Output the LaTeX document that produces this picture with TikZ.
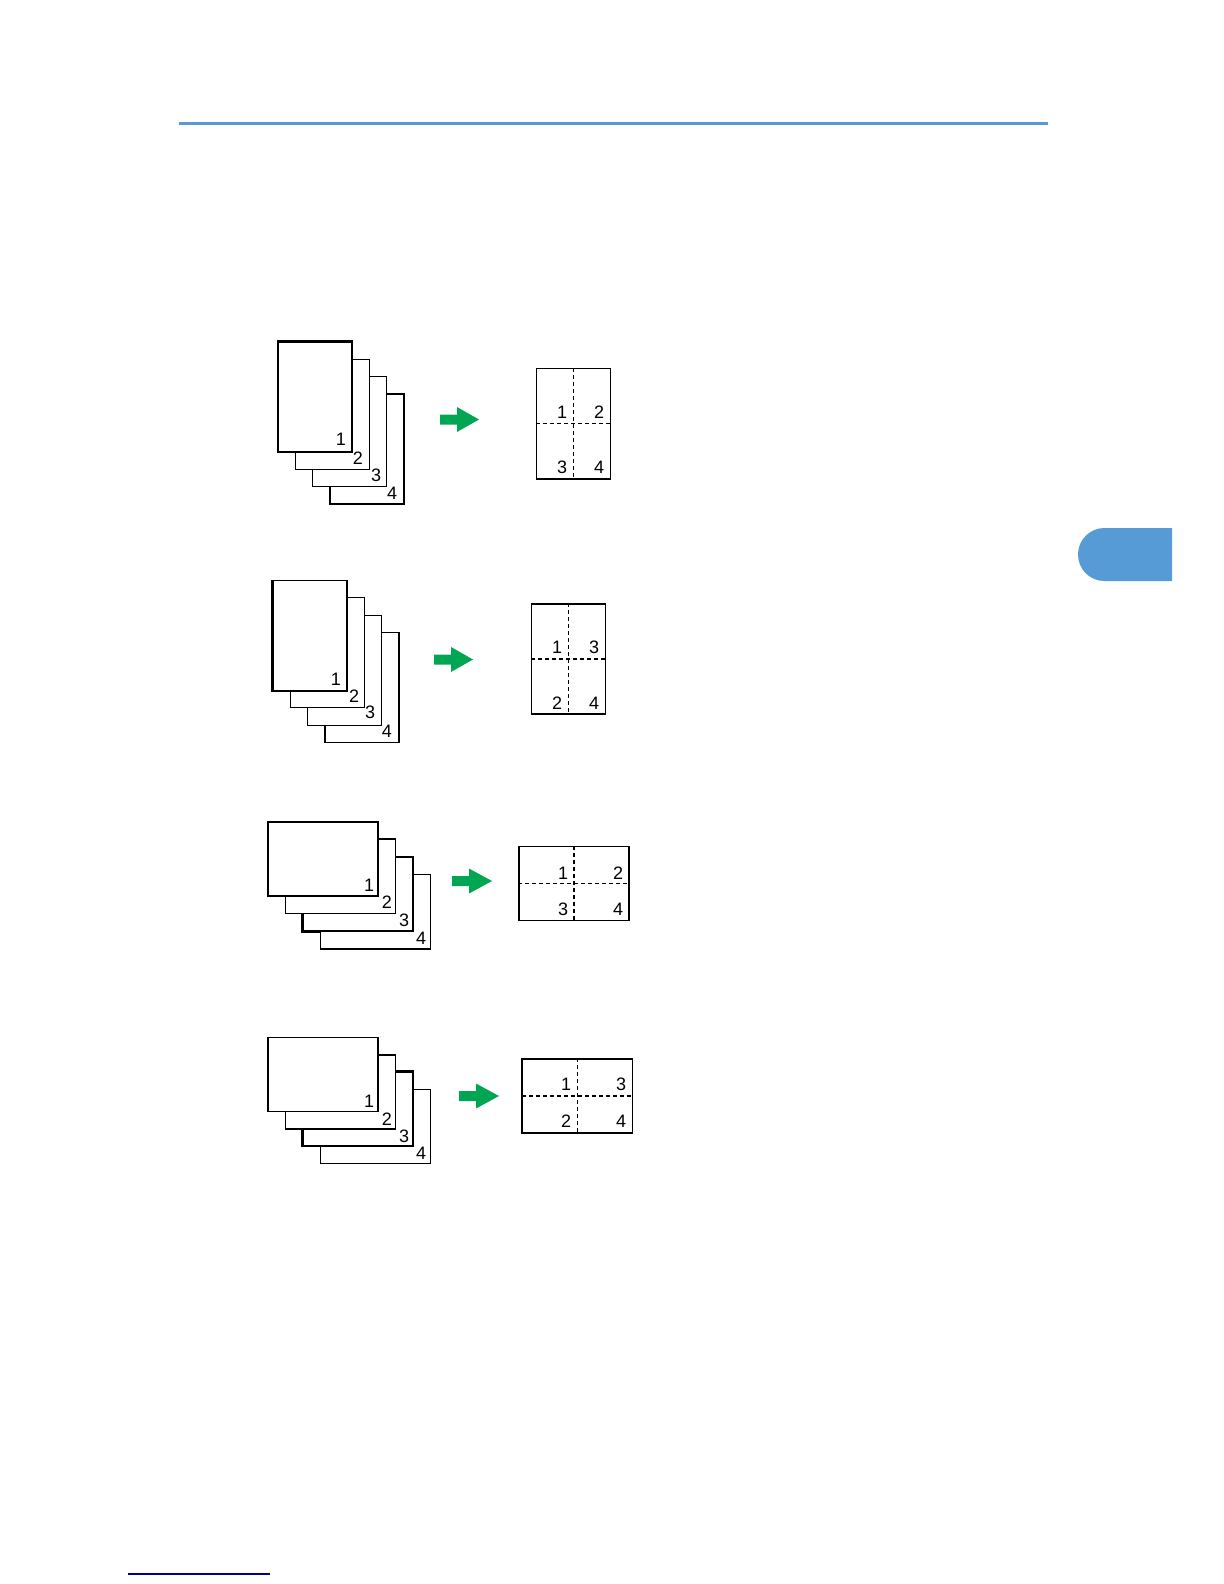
\documentclass[tikz,border=0pt]{standalone}
\usepackage{fontspec}
\setmainfont{Liberation Sans}
\usepackage{tikz}
\definecolor{rulerblue}{RGB}{86,154,214}
\definecolor{linkblue}{RGB}{0,0,150}
\definecolor{gogreen}{RGB}{0,166,81}
\tikzstyle{page}=[draw, fill=white, line width=0.6pt, inner sep=0pt]
\tikzstyle{portrait}=[page, minimum width=37pt, minimum height=55pt]
\tikzstyle{landscape}=[page, minimum width=55pt, minimum height=37pt]
\tikzstyle{num}=[inner sep=0pt, font=\fontsize{9}{10}\selectfont]
\tikzstyle{fold}=[line width=0.6pt, dash pattern=on 2pt off 1.5pt]
\tikzstyle{heavy}=[line width=1.1pt]
\tikzstyle{goarrow}=[fill=gogreen]

\begin{document}
\begin{tikzpicture}[x=0.5pt,y=-0.5pt]
\useasboundingbox (0,0) rectangle (1224,1584);

% page decorations
\draw[rulerblue, line width=1.5pt] (179,124) -- (1048,124);
\fill[rulerblue] (1172,528) [rounded corners=13.2pt] -- (1078,528) -- (1078,581) [sharp corners] -- (1172,581) -- cycle;
\draw[linkblue, line width=0.8pt] (128,1574) -- (270,1574);

% 1: portrait, left to right
\node[portrait] (a4) at (366.9,448.9) {};
\node[num] (na4) at (392,493) {4};
\node[portrait] (a3) at (349.6,431.6) {};
\node[num] (na3) at (376,475) {3};
\node[portrait] (a2) at (332.3,414.3) {};
\node[num] (na2) at (358,458) {2};
\node[portrait] (a1) at (315,397) {};
\node[num] (na1) at (341,439) {1};
\draw[heavy] (a1.north west) -- (a1.north east);

\fill[goarrow] (440,414.5) -- ++(17,0) -- ++(0,-7.5) -- ++(22,12.5) -- ++(-22,12.5) -- ++(0,-7.5) -- ++(-17,0) -- cycle;

\node[portrait] (ra) at (573.5,423.5) {};
\draw[fold] (ra.north) -- (ra.south);
\draw[fold] (ra.west) -- (ra.east);
\draw[heavy] (ra.south west) -- (ra.south east);
\node[num] (ra1) at (562,412) {1};
\node[num] (ra2) at (599,412) {2};
\node[num] (ra3) at (562,467) {3};
\node[num] (ra4) at (599,467) {4};

% 2: portrait, top to bottom
\node[portrait] (b4) at (361.9,687.4) {};
\node[num] (nb4) at (387,731) {4};
\node[portrait] (b3) at (344.6,670.1) {};
\node[num] (nb3) at (370,712) {3};
\node[portrait] (b2) at (327.3,652.8) {};
\node[num] (nb2) at (354,696) {2};
\node[portrait] (b1) at (310,635.5) {};
\node[num] (nb1) at (336,679) {1};
\draw[heavy] (b1.north west) -- (b1.south west) -- (b1.south east);

\fill[goarrow] (434,654.5) -- ++(17,0) -- ++(0,-7.5) -- ++(22,12.5) -- ++(-22,12.5) -- ++(0,-7.5) -- ++(-17,0) -- cycle;

\node[portrait] (rb) at (568.5,659) {};
\draw[fold] (rb.north) -- (rb.south);
\draw[fold] (rb.west) -- (rb.east);
\node[num] (rb1) at (557,647) {1};
\node[num] (rb3) at (594,647) {3};
\node[num] (rb2) at (557,703) {2};
\node[num] (rb4) at (594,703) {4};

% 3: landscape, left to right
\node[landscape] (c4) at (375.5,911.5) {};
\node[num] (nc4) at (421,938) {4};
\node[landscape] (c3) at (358,894) {};
\node[num] (nc3) at (404,920) {3};
\node[landscape] (c2) at (340.5,876.5) {};
\node[num] (nc2) at (387,902) {2};
\node[landscape] (c1) at (323,859) {};
\node[num] (nc1) at (369,885) {1};
\draw[heavy] (c1.east |- c2.north) -- (c2.north east);
\draw[heavy] (c3.west |- c2.south) -- (c3.south west) -- (c3.south west -| c4.west);
\draw[heavy] (c4.south west) -- (c4.south east);

\fill[goarrow] (452,876) -- ++(17,0) -- ++(0,-7.5) -- ++(23,12.5) -- ++(-23,12.5) -- ++(0,-7.5) -- ++(-17,0) -- cycle;

\node[landscape] (rc) at (574,883.5) {};
\draw[fold] (rc.north) -- (rc.south);
\draw[fold] (rc.west) -- (rc.east);
\node[num] (rc1) at (563,873) {1};
\node[num] (rc2) at (618,873) {2};
\node[num] (rc3) at (563,909) {3};
\node[num] (rc4) at (618,909) {4};

% 4: landscape, top to bottom
\node[landscape] (d4) at (375.5,1126.5) {};
\node[num] (nd4) at (421,1153) {4};
\node[landscape] (d3) at (358,1109) {};
\node[num] (nd3) at (404,1136) {3};
\node[landscape] (d2) at (340.5,1092) {};
\node[num] (nd2) at (387,1119) {2};
\node[landscape] (d1) at (323,1074.5) {};
\node[num] (nd1) at (369,1101) {1};
\draw[heavy] (d2.east |- d3.north) -- (d3.north east);
\draw[heavy] (d3.west |- d2.south) -- (d3.south west);

\fill[goarrow] (459,1091) -- ++(17,0) -- ++(0,-7.5) -- ++(23,12.5) -- ++(-23,12.5) -- ++(0,-7.5) -- ++(-17,0) -- cycle;

\node[landscape] (rd) at (577.5,1096) {};
\draw[fold] (rd.north) -- (rd.south);
\draw[fold] (rd.west) -- (rd.east);
\draw[heavy] (rd.north west) -- (rd.south west);
\node[num] (rd1) at (566,1084) {1};
\node[num] (rd3) at (621,1084) {3};
\node[num] (rd2) at (566,1121) {2};
\node[num] (rd4) at (621,1121) {4};
\end{tikzpicture}
\end{document}
